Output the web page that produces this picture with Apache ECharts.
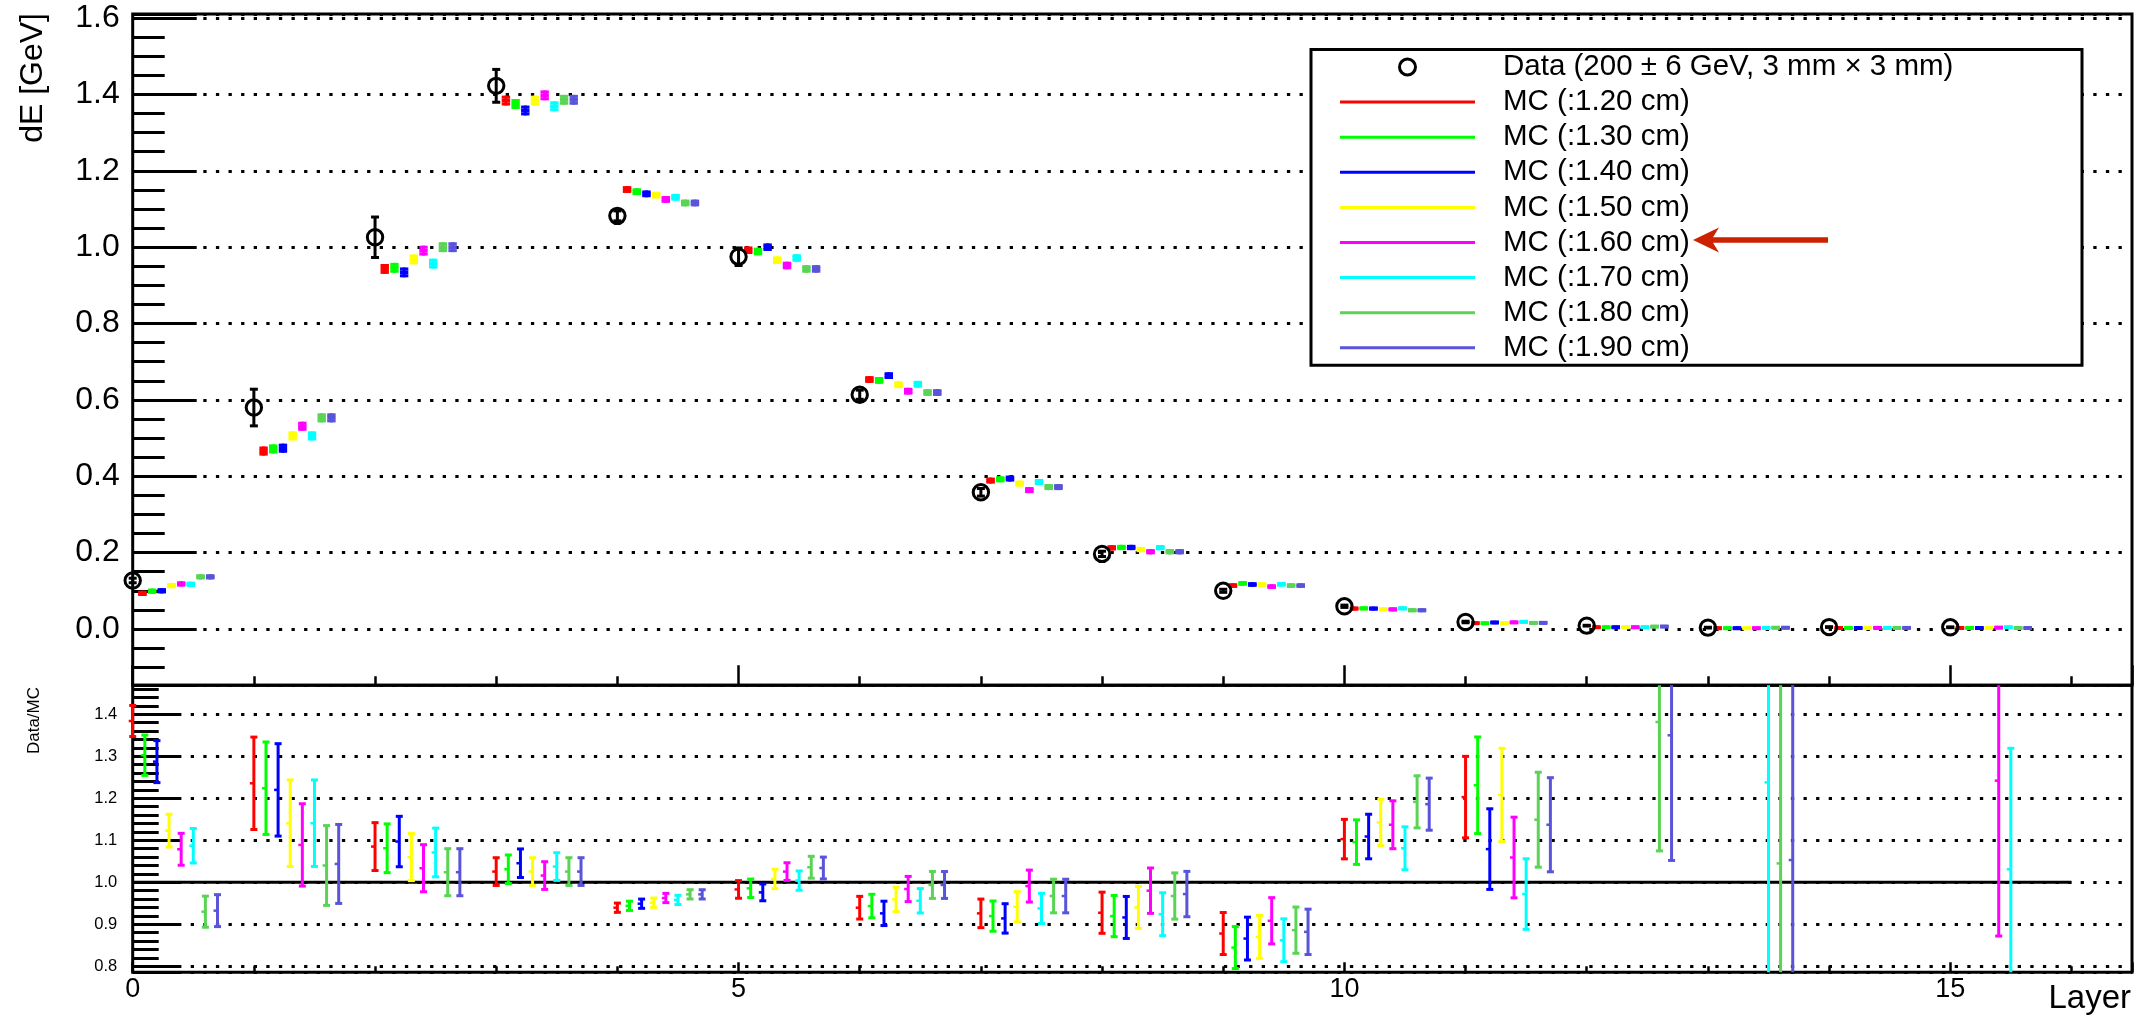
<!DOCTYPE html>
<html>
<head>
<meta charset="utf-8">
<script src="https://cdn.jsdelivr.net/npm/echarts@6/dist/echarts.min.js"></script>
<style>html,body{margin:0;padding:0;background:#fff;}#c{width:2139px;height:1017px;}</style>
</head>
<body>
<div id="c"></div>
<script>
// ---------------- data ----------------
const layers = [0,1,2,3,4,5,6,7,8,9,10,11,12,13,14,15];
const dataLabel = 'Data (200 ± 6 GeV, 3 mm × 3 mm)';
const mcLabels = ['MC (:1.20 cm)','MC (:1.30 cm)','MC (:1.40 cm)','MC (:1.50 cm)','MC (:1.60 cm)','MC (:1.70 cm)','MC (:1.80 cm)','MC (:1.90 cm)'];
const xTickLabels = ['0','5','10','15'];

const dataValues = [0.127,0.580,1.026,1.4226,1.082,0.975,0.6136,0.358,0.1967,0.100,0.0595,0.0183,0.0087,0.0035,0.005,0.0045];
const dataErrors = [0.006,0.048,0.053,0.043,0.013,0.023,0.012,0.010,0.007,0.004,0.003,0.002,0.001,0.001,0.001,0.001];

const mc120 = [0.0933,0.466,0.943,1.384,1.151,0.992,0.6534,0.3887,0.2125,0.1137,0.0535,0.0152,0.0045,0.002,0.0025,0.0025];
const mc130 = [0.099,0.4716,0.946,1.375,1.1454,0.9887,0.651,0.3921,0.2135,0.1194,0.054,0.0149,0.0045,0.002,0.0025,0.0025];
const mc140 = [0.100,0.4735,0.934,1.358,1.1397,1.000,0.6636,0.394,0.2135,0.1165,0.0535,0.017,0.0045,0.002,0.0025,0.0025];
const mc150 = [0.1137,0.5057,0.968,1.384,1.1363,0.966,0.6398,0.3807,0.208,0.1165,0.0513,0.0151,0.0045,0.002,0.0028,0.0025];
const mc160 = [0.118,0.531,0.991,1.3977,1.125,0.952,0.6228,0.3638,0.2023,0.111,0.0513,0.0173,0.0045,0.002,0.0028,0.0036];
const mc170 = [0.117,0.5057,0.957,1.369,1.1307,0.9716,0.641,0.385,0.213,0.117,0.054,0.0188,0.0045,0.0028,0.0028,0.0044];
const mc180 = [0.1365,0.553,1.000,1.386,1.1158,0.943,0.6193,0.3717,0.2023,0.1137,0.049,0.0159,0.0063,0.0033,0.0028,0.0025];
const mc190 = [0.1365,0.553,1.000,1.386,1.1158,0.943,0.6193,0.3717,0.2023,0.1137,0.049,0.0161,0.0064,0.0033,0.0028,0.0025];
const mcErrors = [0.003,0.008,0.009,0.009,0.005,0.006,0.005,0.004,0.003,0.002,0.001,0.0005,0.0003,0.0003,0.0003,0.0003];

const ratio120 = [1.384,1.2357,1.085,1.0255,0.9395,0.983,0.9395,0.926,0.9275,0.878,1.1028,1.2028,null,null,null,null];
const ratioErr120 = [0.037,0.110,0.057,0.033,0.011,0.021,0.027,0.034,0.049,0.050,0.047,0.097,null,null,null,null];
const ratio130 = [1.3025,1.224,1.081,1.031,0.944,0.9857,0.9434,0.9195,0.9195,0.8446,1.0956,1.231,null,null,null,null];
const ratioErr130 = [0.048,0.110,0.058,0.034,0.011,0.022,0.028,0.036,0.049,0.050,0.053,0.115,null,null,null,null];
const ratio140 = [1.2873,1.220,1.097,1.0454,0.949,0.976,0.926,0.914,0.9163,0.866,1.109,1.079,null,null,null,null];
const ratioErr140 = [0.050,0.110,0.060,0.034,0.011,0.020,0.029,0.035,0.050,0.051,0.053,0.096,null,null,null,null];
const ratio150 = [1.123,1.1407,1.060,1.0255,0.9514,1.008,0.9594,0.9418,0.9402,0.870,1.1426,1.208,null,null,null,null];
const ratioErr150 = [0.039,0.103,0.056,0.033,0.011,0.023,0.029,0.036,0.050,0.051,0.055,0.111,null,null,null,null];
const ratio160 = [1.0786,1.089,1.0335,1.016,0.9626,1.0255,0.984,0.991,0.980,0.9084,1.137,1.059,null,null,null,1.242];
const ratioErr160 = [0.038,0.098,0.056,0.033,0.011,0.021,0.030,0.038,0.054,0.055,0.057,0.096,null,null,null,0.370];
const ratio170 = [1.087,1.1407,1.071,1.0375,0.958,1.004,0.956,0.9378,0.924,0.862,1.081,0.972,null,1.238,null,1.031];
const ratioErr170 = [0.041,0.103,0.058,0.033,0.011,0.023,0.029,0.036,0.051,0.051,0.051,0.084,null,0.600,null,0.288];
const ratio180 = [0.930,1.040,1.024,1.0255,0.9713,1.0358,0.9936,0.9673,0.9673,0.886,1.1915,1.149,1.3817,1.045,null,null];
const ratioErr180 = [0.037,0.095,0.056,0.033,0.011,0.026,0.032,0.040,0.055,0.055,0.062,0.113,0.307,0.600,null,null];
const ratio190 = [0.9325,1.0437,1.024,1.0255,0.9713,1.034,0.9936,0.9673,0.972,0.882,1.186,1.137,1.350,1.053,null,null];
const ratioErr190 = [0.038,0.094,0.056,0.033,0.011,0.026,0.032,0.040,0.054,0.054,0.062,0.112,0.298,0.600,null,null];

const unityLine = [[0,1],[16,1]];

// ---------------- styling ----------------
const mcSeriesValues = [mc120,mc130,mc140,mc150,mc160,mc170,mc180,mc190];
const ratioSeriesValues = [ratio120,ratio130,ratio140,ratio150,ratio160,ratio170,ratio180,ratio190];
const ratioSeriesErrors = [ratioErr120,ratioErr130,ratioErr140,ratioErr150,ratioErr160,ratioErr170,ratioErr180,ratioErr190];
const colors = ['#ff0000','#00ff00','#0000ff','#ffff00','#ff00ff','#00ffff','#59d454','#5954d9'];
const FONT = '"Liberation Sans", Arial, Helvetica, sans-serif';
const mcStep = 0.08;     // horizontal spacing of MC points inside a layer (top pad)
const ratioStep = 0.1;   // horizontal spacing of ratio points inside a layer (bottom pad)

function renderDataPoint(params, api) {
  const x = api.value(0), v = api.value(1), e = api.value(2);
  const c = api.coord([x, v]);
  const yHi = api.coord([x, v + e])[1], yLo = api.coord([x, v - e])[1];
  const s = {stroke:'#000', lineWidth:3, fill:'none'};
  return {type:'group', children:[
    {type:'line', shape:{x1:c[0], y1:yHi, x2:c[0], y2:yLo}, style:s},
    {type:'line', shape:{x1:c[0]-4, y1:yHi, x2:c[0]+4, y2:yHi}, style:s},
    {type:'line', shape:{x1:c[0]-4, y1:yLo, x2:c[0]+4, y2:yLo}, style:s},
    {type:'circle', shape:{cx:c[0], cy:c[1], r:7.7}, style:{stroke:'#000', lineWidth:3, fill:'none'}}
  ]};
}

function makeMcRender(color) {
  return function (params, api) {
    const x = api.value(0), v = api.value(1), e = api.value(2);
    const c = api.coord([x, v]);
    const yHi = api.coord([x, v + e])[1], yLo = api.coord([x, v - e])[1];
    const hw = 4.2;
    const s = {stroke: color, lineWidth: 3, fill: 'none'};
    return {type:'group', children:[
      {type:'line', shape:{x1:c[0]-hw, y1:c[1], x2:c[0]+hw, y2:c[1]}, style:{stroke:color, lineWidth:4}},
      {type:'line', shape:{x1:c[0], y1:yHi-1.5, x2:c[0], y2:yLo+1.5}, style:s},
      {type:'line', shape:{x1:c[0]-hw, y1:yHi, x2:c[0]+hw, y2:yHi}, style:s},
      {type:'line', shape:{x1:c[0]-hw, y1:yLo, x2:c[0]+hw, y2:yLo}, style:s}
    ]};
  };
}

function makeRatioRender(color) {
  return function (params, api) {
    const cs = params.coordSys;
    const top = cs.y, bot = cs.y + cs.height;
    const x = api.value(0), v = api.value(1), e = api.value(2);
    const c = api.coord([x, v]);
    const yHi = api.coord([x, v + e])[1], yLo = api.coord([x, v - e])[1];
    const hiC = Math.max(yHi, top), loC = Math.min(yLo, bot);
    const s = {stroke: color, lineWidth: 3, fill: 'none'};
    const ch = [];
    if (hiC < loC) ch.push({type:'line', shape:{x1:c[0], y1:hiC, x2:c[0], y2:loC}, style:s});
    if (yHi >= top) ch.push({type:'line', shape:{x1:c[0]-3.5, y1:yHi, x2:c[0]+3.5, y2:yHi}, style:s});
    if (yLo <= bot) ch.push({type:'line', shape:{x1:c[0]-3.5, y1:yLo, x2:c[0]+3.5, y2:yLo}, style:s});
    if (c[1] >= top && c[1] <= bot) ch.push({type:'line', shape:{x1:c[0]-4, y1:c[1], x2:c[0], y2:c[1]}, style:{stroke:color, lineWidth:2.5}});
    return {type:'group', children: ch};
  };
}

const series = [];
series.push({
  name: dataLabel, type:'custom', xAxisIndex:0, yAxisIndex:0, clip:false, z:5,
  itemStyle:{color:'#000'},
  renderItem: renderDataPoint,
  data: layers.map((l, i) => [l, dataValues[i], dataErrors[i]])
});
mcSeriesValues.forEach((vals, k) => {
  series.push({
    name: mcLabels[k], type:'custom', xAxisIndex:0, yAxisIndex:0, clip:false, z:4,
    itemStyle:{color: colors[k]},
    renderItem: makeMcRender(colors[k]),
    data: layers.map((l, i) => [l + mcStep * (k + 1), vals[i], mcErrors[i]])
  });
});
series.push({
  name:'unity', type:'line', xAxisIndex:1, yAxisIndex:1, data: unityLine, symbol:'none', silent:true, z:2,
  lineStyle:{color:'#000', width:3}
});
ratioSeriesValues.forEach((vals, k) => {
  const errs = ratioSeriesErrors[k];
  series.push({
    name: 'ratio ' + mcLabels[k], type:'custom', xAxisIndex:1, yAxisIndex:1, clip:false, z:4,
    itemStyle:{color: colors[k]},
    renderItem: makeRatioRender(colors[k]),
    data: layers.map((l, i) => [l + ratioStep * k, vals[i], errs[i]]).filter(d => d[1] != null)
  });
});

const dotted = {color:'#000', width:3, type:[3.3, 9.3], dashOffset:5};
const tickStyle = {color:'#000', width:3};

const option = {
  animation: false,
  backgroundColor: '#fff',
  textStyle: {fontFamily: FONT, color: '#000'},
  grid: [
    {left:132.7, top:13.9, width:1999.3, height:671.4, show:true, borderColor:'#000', borderWidth:3, backgroundColor:'transparent', containLabel:false, outerBoundsMode:'none'},
    {left:132.7, top:685.3, width:1999.3, height:287, show:true, borderColor:'#000', borderWidth:3, backgroundColor:'transparent', containLabel:false, outerBoundsMode:'none'}
  ],
  xAxis: [
    {gridIndex:0, type:'value', min:0, max:16.5, interval:5, position:'bottom',
     axisLine:{show:false, onZero:false},
     axisTick:{show:true, inside:true, length:20, lineStyle:{color:'#000', width:2.5}},
     minorTick:{show:true, splitNumber:5, length:9, lineStyle:{color:'#000', width:2.5}},
     axisLabel:{show:false}, splitLine:{show:false}, minorSplitLine:{show:false}},
    {gridIndex:1, type:'value', min:0, max:16.5, interval:5, position:'bottom',
     axisLine:{show:false, onZero:false},
     axisTick:{show:true, inside:true, length:10, lineStyle:{color:'#000', width:2.5}},
     minorTick:{show:true, splitNumber:5, length:6, lineStyle:{color:'#000', width:2.5}},
     axisLabel:{show:true, fontSize:27, margin:4, color:'#000', fontFamily:FONT, showMinLabel:true, showMaxLabel:false,
       formatter: v => { const i = Math.round(v / 5); return (Math.abs(v - i * 5) < 1e-6 && xTickLabels[i] !== undefined) ? xTickLabels[i] : ''; }},
     splitLine:{show:false}, minorSplitLine:{show:false}}
  ],
  yAxis: [
    {gridIndex:0, type:'value', min:-0.1475, max:1.611, splitNumber:8, minInterval:0.2, maxInterval:0.2,
     axisLine:{show:false, onZero:false},
     axisTick:{show:true, inside:true, length:64, lineStyle:tickStyle},
     minorTick:{show:true, splitNumber:4, length:32, lineStyle:tickStyle},
     axisLabel:{fontSize:32, margin:13, color:'#000', fontFamily:FONT, showMinLabel:false, showMaxLabel:false,
       formatter: v => v.toFixed(1)},
     splitLine:{show:true, lineStyle:dotted}, minorSplitLine:{show:false}},
    {gridIndex:1, type:'value', min:0.7857, max:1.469, splitNumber:7, minInterval:0.1, maxInterval:0.1,
     axisLine:{show:false, onZero:false},
     axisTick:{show:true, inside:true, length:48, lineStyle:tickStyle},
     minorTick:{show:true, splitNumber:5, length:26, lineStyle:tickStyle},
     axisLabel:{fontSize:16.5, margin:15.5, color:'#000', fontFamily:FONT, showMinLabel:false, showMaxLabel:false,
       formatter: v => v.toFixed(1)},
     splitLine:{show:true, lineStyle:dotted}, minorSplitLine:{show:false}}
  ],
  legend: {
    orient:'vertical', left:1311, top:49.45, padding:[0,0,0,29], itemGap:0,
    itemWidth:135, itemHeight:16, symbolKeepAspect:true,
    backgroundColor:'#fff', borderColor:'#000', borderWidth:3, borderRadius:0,
    selectedMode:false, z:10,
    textStyle:{fontSize:29.5, color:'#000', fontFamily:FONT, lineHeight:28.1, width:579, padding:[0,0,7,23], overflow:'none'},
    data: [{name:dataLabel, icon:'circle', itemStyle:{color:'rgba(0,0,0,0)', borderColor:'#000', borderWidth:3}}]
      .concat(mcLabels.map((n, k) => ({name:n, icon:'path://M0,0L135,0L135,3L0,3Z', itemStyle:{color:colors[k], borderWidth:0}})))
  },
  graphic: [
    {type:'text', x:33, y:13, rotation:Math.PI/2, z:100,
     style:{text:'dE [GeV]', fontSize:32, fontFamily:FONT, fill:'#000', align:'right', verticalAlign:'middle'}},
    {type:'text', x:34.5, y:687, rotation:Math.PI/2, z:100,
     style:{text:'Data/MC', fontSize:17, fontFamily:FONT, fill:'#000', align:'right', verticalAlign:'middle'}},
    {type:'text', x:2131, y:998.6, z:100,
     style:{text:'Layer', fontSize:33, fontFamily:FONT, fill:'#000', align:'right', verticalAlign:'middle'}},
    {type:'polygon', z:100,
     shape:{points:[[1693,240],[1719,227.5],[1713,237.3],[1828,237.3],[1828,242.7],[1713,242.7],[1719,252.5]]},
     style:{fill:'#cc2200'}}
  ],
  series: series
};

const chart = echarts.init(document.getElementById('c'), null, {renderer:'canvas', width:2139, height:1017});
chart.setOption(option);
</script>
</body>
</html>
